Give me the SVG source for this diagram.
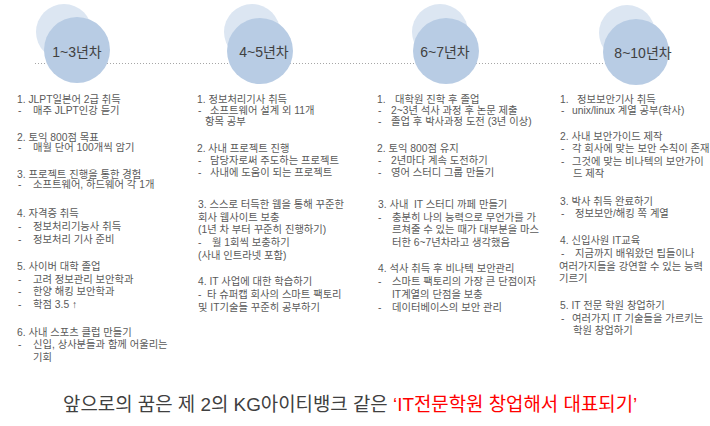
<svg xmlns="http://www.w3.org/2000/svg" width="710" height="426" viewBox="0 0 710 426">
<style>
.bg{fill:#ffffff}
.lc{fill:#dce6f2}
.mc{fill:#b8cce4}
.lbl{font-family:"Liberation Sans","Noto Sans CJK KR",sans-serif;font-size:14px;fill:#404040;text-anchor:middle}
.t{font-family:"Liberation Sans","Noto Sans CJK KR",sans-serif;font-size:10.3px;fill:#595959}
.cap{font-family:"Liberation Sans","Noto Sans CJK KR",sans-serif;font-size:18.9px;fill:#404040}
.red{fill:#ff0000}
.dot{stroke:#a6a6a6;stroke-width:1;stroke-dasharray:1 2;fill:none}
</style>
<rect class="bg" x="0" y="0" width="710" height="426"/>
<g id="connectors">
<line class="dot" x1="35" y1="63.5" x2="636" y2="63.5"/>
</g>
<g id="node-1-3">
<circle class="lc" cx="64" cy="32" r="28"/>
<circle class="mc" cx="77" cy="50" r="33"/>
<text class="lbl" x="77" y="57">1~3년차</text>
<text class="t" x="17" y="103">1. JLPT일본어 2급 취득</text>
<text class="t" y="114"><tspan x="18">-</tspan><tspan x="33">매주 JLPT인강 듣기</tspan></text>
<text class="t" x="17" y="141">2. 토익 800점 목표</text>
<text class="t" y="151"><tspan x="18">-</tspan><tspan x="33">매월 단어 100개씩 암기</tspan></text>
<text class="t" x="17" y="178">3. 프로젝트 진행을 통한 경험</text>
<text class="t" y="188"><tspan x="18">-</tspan><tspan x="33">소프트웨어, 하드웨어 각 1개</tspan></text>
<text class="t" x="17" y="217">4. 자격증 취득</text>
<text class="t" y="230"><tspan x="18">-</tspan><tspan x="33">정보처리기능사 취득</tspan></text>
<text class="t" y="243"><tspan x="18">-</tspan><tspan x="33">정보처리 기사 준비</tspan></text>
<text class="t" x="17" y="270">5. 사이버 대학 졸업</text>
<text class="t" y="283"><tspan x="18">-</tspan><tspan x="33">고려 정보관리 보안학과</tspan></text>
<text class="t" y="295"><tspan x="18">-</tspan><tspan x="33">한양 해킹 보안학과</tspan></text>
<text class="t" y="308"><tspan x="18">-</tspan><tspan x="33">학점 3.5 ↑</tspan></text>
<text class="t" x="17" y="336">6. 사내 스포츠 클럽 만들기</text>
<text class="t" y="348"><tspan x="18">-</tspan><tspan x="33">신입, 상사분들과 함께 어울리는</tspan></text>
<text class="t" x="33" y="361">기회</text>
</g>
<g id="node-4-5">
<circle class="lc" cx="252" cy="32" r="28"/>
<circle class="mc" cx="260" cy="51" r="33"/>
<text class="lbl" x="264" y="57">4~5년차</text>
<text class="t" x="197" y="103">1. 정보처리기사 취득</text>
<text class="t" y="114"><tspan x="198">-</tspan><tspan x="210">소프트웨어 설계 외 11개</tspan></text>
<text class="t" x="205" y="125">항목 공부</text>
<text class="t" y="152"><tspan x="197">2.</tspan><tspan x="208">사내 프로젝트 진행</tspan></text>
<text class="t" y="164"><tspan x="198">-</tspan><tspan x="210">담당자로써 주도하는 프로젝트</tspan></text>
<text class="t" y="176"><tspan x="198">-</tspan><tspan x="210">사내에 도움이 되는 프로젝트</tspan></text>
<text class="t" x="198" y="208">3. 스스로 터득한 웹을 통해 꾸준한</text>
<text class="t" x="198" y="221">회사 웹사이트 보충</text>
<text class="t" x="198" y="233">(1년 차 부터 꾸준히 진행하기)</text>
<text class="t" y="246"><tspan x="198">-</tspan><tspan x="212">월 1회씩 보충하기</tspan></text>
<text class="t" x="198" y="259">(사내 인트라넷 포함)</text>
<text class="t" x="198" y="285">4. IT 사업에 대한 학습하기</text>
<text class="t" y="298"><tspan x="198">-</tspan><tspan x="207">타 슈퍼캡 회사의 스마트 팩토리</tspan></text>
<text class="t" x="198" y="311">및 IT기술들 꾸준히 공부하기</text>
</g>
<g id="node-6-7">
<circle class="lc" cx="440" cy="32" r="28"/>
<circle class="mc" cx="446" cy="51" r="33"/>
<text class="lbl" x="445" y="57">6~7년차</text>
<text class="t" y="103"><tspan x="377">1.</tspan><tspan x="395">대학원 진학 후 졸업</tspan></text>
<text class="t" y="114"><tspan x="378">-</tspan><tspan x="391">2~3년 석사 과정 후 논문 제출</tspan></text>
<text class="t" y="125"><tspan x="378">-</tspan><tspan x="391">졸업 후 박사과정 도전 (3년 이상)</tspan></text>
<text class="t" x="377" y="152">2. 토익 800점 유지</text>
<text class="t" y="164"><tspan x="378">-</tspan><tspan x="391">2년마다 계속 도전하기</tspan></text>
<text class="t" y="176"><tspan x="378">-</tspan><tspan x="391">영어 스터디 그룹 만들기</tspan></text>
<text class="t" y="208"><tspan x="378">3. 사내</tspan><tspan x="414">IT 스터디 까페 만들기</tspan></text>
<text class="t" y="221"><tspan x="378">-</tspan><tspan x="392">충분히 나의 능력으로 무언가를 가</tspan></text>
<text class="t" x="392" y="233">르쳐줄 수 있는 때가 대부분을 마스</text>
<text class="t" x="392" y="246">터한 6~7년차라고 생각했음</text>
<text class="t" x="378" y="272">4. 석사 취득 후 비나텍 보안관리</text>
<text class="t" y="285"><tspan x="378">-</tspan><tspan x="392">스마트 팩토리의 가장 큰 단점이자</tspan></text>
<text class="t" x="392" y="298">IT계열의 단점을 보충</text>
<text class="t" y="311"><tspan x="378">-</tspan><tspan x="392">데이터베이스의 보안 관리</tspan></text>
</g>
<g id="node-8-10">
<circle class="lc" cx="627" cy="33" r="28"/>
<circle class="mc" cx="636" cy="52" r="33"/>
<text class="lbl" x="643" y="58">8~10년차</text>
<text class="t" y="103"><tspan x="560">1.</tspan><tspan x="577">정보보안기사 취득</tspan></text>
<text class="t" y="114"><tspan x="561">-</tspan><tspan x="572">unix/linux 계열 공부(학사)</tspan></text>
<text class="t" x="560" y="140">2. 사내 보안가이드 제작</text>
<text class="t" y="152"><tspan x="561">-</tspan><tspan x="572">각 회사에 맞는 보안 수칙이 존재</tspan></text>
<text class="t" y="165"><tspan x="561">-</tspan><tspan x="572">그것에 맞는 비나텍의 보안가이</tspan></text>
<text class="t" x="573" y="177">드 제작</text>
<text class="t" x="560" y="205">3. 박사 취득 완료하기</text>
<text class="t" y="217"><tspan x="561">-</tspan><tspan x="575">정보보안/해킹 쪽 계열</tspan></text>
<text class="t" x="560" y="244">4. 신입사원 IT교육</text>
<text class="t" y="257"><tspan x="561">-</tspan><tspan x="575">지금까지 배워왔던 팁들이나</tspan></text>
<text class="t" x="559" y="270">여러가지들을 강연할 수 있는 능력</text>
<text class="t" x="559" y="282">기르기</text>
<text class="t" x="560" y="309">5. IT 전문 학원 창업하기</text>
<text class="t" y="322"><tspan x="561">-</tspan><tspan x="572">여러가지 IT 기술들을 가르키는</tspan></text>
<text class="t" x="573" y="334">학원 창업하기</text>
</g>
<g id="caption">
<text class="cap" x="63" y="411">앞으로의 꿈은 제 2의 KG아이티뱅크 같은 <tspan class="red">‘IT전문학원 창업해서 대표되기’</tspan></text>
</g>
</svg>
